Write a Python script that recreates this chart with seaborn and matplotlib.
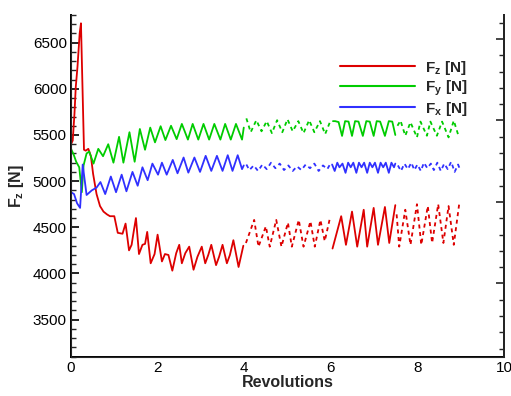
import numpy as np
import matplotlib
matplotlib.use("Agg")
import matplotlib.pyplot as plt
from matplotlib.lines import Line2D
from matplotlib.ticker import MultipleLocator
import seaborn as sns

# ---------------- data ----------------
fz_rev = [0.00, 0.04, 0.08, 0.11, 0.15, 0.20, 0.23, 0.30, 0.34, 0.40, 0.46, 0.51, 0.59,
          0.67, 0.75, 0.83, 0.90, 1.00, 1.08, 1.19, 1.26, 1.34, 1.40, 1.45, 1.50, 1.57,
          1.65, 1.71, 1.76, 1.84, 1.93, 2.00, 2.10, 2.17, 2.25, 2.34, 2.43, 2.50, 2.56,
          2.64, 2.73, 2.83, 2.92, 3.02, 3.10, 3.17, 3.24, 3.35, 3.42, 3.50, 3.60, 3.67,
          3.75, 3.87, 3.98,
          4.04, 4.23, 4.33, 4.50, 4.59, 4.74, 4.86, 5.01, 5.10, 5.26, 5.37, 5.53, 5.63,
          5.76, 5.86, 5.98,
          6.04, 6.24, 6.35, 6.49, 6.61, 6.76, 6.84, 6.99, 7.09, 7.25, 7.35, 7.49,
          7.52, 7.58, 7.72, 7.84, 7.99, 8.09, 8.24, 8.34, 8.48, 8.60, 8.72, 8.84, 8.97]
fz_val = [5400, 5440, 5730, 6020, 6240, 6600, 6710, 5340, 5330, 5350, 5270, 5080, 4860,
          4730, 4670, 4640, 4620, 4620, 4440, 4430, 4540, 4250, 4310, 4460, 4600, 4210,
          4310, 4320, 4450, 4110, 4210, 4420, 4130, 4210, 4200, 4030, 4220, 4310, 4110,
          4220, 4290, 4040, 4180, 4290, 4110, 4200, 4310, 4090, 4180, 4310, 4110, 4200,
          4360, 4070, 4300,
          4330, 4580, 4290, 4510, 4290, 4580, 4290, 4550, 4290, 4580, 4290, 4565, 4290,
          4580, 4350, 4600,
          4270, 4620, 4310, 4670, 4290, 4690, 4290, 4710, 4310, 4720, 4330, 4740,
          4640, 4290, 4690, 4310, 4750, 4310, 4730, 4330, 4750, 4330, 4730, 4310, 4770]

fy_rev = [0.00, 0.06, 0.12, 0.19, 0.25, 0.29, 0.36, 0.42, 0.52, 0.63, 0.74, 0.86, 0.98,
          1.11, 1.21, 1.35, 1.47, 1.59, 1.71, 1.83, 1.94, 2.07, 2.18, 2.31, 2.44, 2.56,
          2.70, 2.81, 2.94, 3.06, 3.19, 3.31, 3.45, 3.56, 3.69, 3.81, 3.95, 3.99,
          4.05, 4.15, 4.28, 4.40, 4.52, 4.64, 4.76, 4.88, 5.00, 5.12, 5.25, 5.37, 5.50,
          5.62, 5.75, 5.87, 5.98,
          6.05, 6.10, 6.18, 6.26, 6.33, 6.41, 6.49, 6.56, 6.64, 6.74, 6.82, 6.90, 6.99,
          7.06, 7.14, 7.25, 7.34, 7.42, 7.49,
          7.54, 7.61, 7.72, 7.84, 7.99, 8.07, 8.22, 8.30, 8.45, 8.57, 8.72, 8.84, 8.96]
fy_val = [5350, 5290, 5210, 5150, 4880, 5170, 5300, 5320, 5190, 5350, 5270, 5400, 5200,
          5480, 5200, 5530, 5210, 5565, 5340, 5580, 5420, 5595, 5445, 5600, 5455, 5620,
          5450, 5620, 5450, 5620, 5450, 5620, 5450, 5620, 5450, 5620, 5450, 5580,
          5680, 5530, 5660, 5540, 5650, 5520, 5660, 5530, 5670, 5540, 5650, 5520, 5660,
          5530, 5650, 5510, 5640,
          5650, 5650, 5640, 5490, 5650, 5645, 5490, 5650, 5645, 5490, 5650, 5645, 5490,
          5650, 5645, 5490, 5650, 5645, 5500,
          5600, 5656, 5492, 5638, 5474, 5645, 5492, 5645, 5492, 5645, 5474, 5656, 5474]

fx_rev = [0.00, 0.07, 0.14, 0.21, 0.27, 0.36, 0.48, 0.59, 0.68, 0.79, 0.92, 1.04, 1.17,
          1.28, 1.42, 1.54, 1.65, 1.77, 1.88, 2.01, 2.10, 2.21, 2.35, 2.46, 2.60, 2.71,
          2.85, 2.98, 3.11, 3.24, 3.37, 3.50, 3.62, 3.73, 3.85, 3.95, 3.99,
          4.05, 4.12, 4.22, 4.32, 4.42, 4.52, 4.62, 4.72, 4.82, 4.92, 5.02, 5.12, 5.22,
          5.32, 5.42, 5.52, 5.62, 5.72, 5.82, 5.92, 5.98,
          6.03, 6.09, 6.15, 6.20, 6.27, 6.34, 6.40, 6.46, 6.52, 6.59, 6.65, 6.71, 6.77,
          6.84, 6.90, 6.96, 7.02, 7.09, 7.15, 7.21, 7.27, 7.34, 7.40, 7.46, 7.49,
          7.55, 7.62, 7.70, 7.78, 7.86, 7.93, 8.00, 8.08, 8.15, 8.23, 8.31, 8.38, 8.46,
          8.54, 8.62, 8.70, 8.78, 8.86, 8.94, 8.98]
fx_val = [4880, 4860, 4760, 4710, 5180, 4850, 4900, 4930, 4990, 4860, 5050, 4880, 5070,
          4890, 5100, 4950, 5150, 5010, 5190, 5070, 5200, 5070, 5230, 5085, 5256, 5092,
          5256, 5100, 5274, 5111, 5274, 5111, 5281, 5111, 5281, 5130, 5170,
          5180, 5120, 5170, 5110, 5180, 5130, 5200, 5140, 5190, 5120, 5170, 5110, 5160,
          5120, 5180, 5140, 5190, 5110, 5170, 5130, 5180,
          5180, 5110, 5200, 5150, 5190, 5090, 5200, 5150, 5200, 5090, 5200, 5150, 5200,
          5090, 5200, 5150, 5200, 5090, 5200, 5150, 5200, 5090, 5200, 5150, 5190,
          5170, 5110, 5190, 5130, 5200, 5120, 5180, 5110, 5200, 5140, 5190, 5120, 5200,
          5110, 5190, 5130, 5210, 5100, 5180, 5130]

segment_edges = [0.0, 4.0, 6.0, 7.5, 9.0]
labels = ["F$_\\mathbf{z}$ [N]", "F$_\\mathbf{y}$ [N]", "F$_\\mathbf{x}$ [N]"]
x_ticks = [0, 2, 4, 6, 8, 10]
y_ticks = [3500, 4000, 4500, 5000, 5500, 6000, 6500]

# ---------------- styling ----------------
sns.set_style("white")
plt.rcParams["font.family"] = ["Liberation Sans", "DejaVu Sans"]
plt.rcParams["mathtext.fontset"] = "custom"
plt.rcParams["mathtext.rm"] = "Liberation Sans:bold"
plt.rcParams["mathtext.bf"] = "Liberation Sans:bold"
plt.rcParams["mathtext.it"] = "Liberation Sans:bold"

colors = ["#dd0000", "#00cc00", "#3030ff"]
seg_styles = ["-", (0, (2.2, 2.0)), "-", (0, (2.2, 2.0))]

fig = plt.figure(figsize=(5.11, 3.96), dpi=100)
L, R, T, B = 71, 504, 15, 356.5
ax = fig.add_axes([L / 511, 1 - B / 396, (R - L) / 511, (B - T) / 396])

series = [(fz_rev, fz_val), (fy_rev, fy_val), (fx_rev, fx_val)]
for (rv, vv), col in zip(series, colors):
    rv = np.asarray(rv, float)
    vv = np.asarray(vv, float)
    for i in range(len(segment_edges) - 1):
        a, b = segment_edges[i], segment_edges[i + 1]
        m = (rv >= a) & ((rv < b) if i < len(segment_edges) - 2 else (rv <= b + 0.01))
        sns.lineplot(x=rv[m], y=vv[m], ax=ax, color=col, lw=1.3,
                     linestyle=seg_styles[i], estimator=None, sort=False, legend=False)

ax.set_xlim(0, 10)
ax.set_ylim(3100, 6800)
ax.set_xticks(x_ticks)
ax.set_yticks(y_ticks)
ax.xaxis.set_minor_locator(MultipleLocator(0.5))
ax.yaxis.set_minor_locator(MultipleLocator(100))
ax.tick_params(axis="both", which="major", direction="in", length=6, width=1.2,
               labelsize=11, colors="black")
ax.tick_params(axis="both", which="minor", direction="in", length=3.5, width=1.0)
ax.tick_params(axis="x", pad=3)
ax.tick_params(axis="y", pad=3)
for s in ["left", "bottom", "right"]:
    ax.spines[s].set_linewidth(1.4)
    ax.spines[s].set_color("black")
ax.spines["top"].set_visible(False)

ax.set_xlabel("Revolutions", fontsize=11.5, fontweight="bold", labelpad=0)
ax.set_ylabel("F$_\\mathbf{z}$ [N]", fontsize=11.5, fontweight="bold", labelpad=5)

handles = [Line2D([], [], color=c, lw=1.5) for c in colors]
ax.legend(handles, labels, loc="upper left", bbox_to_anchor=(0.621, 0.872),
          frameon=False, borderaxespad=0, borderpad=0, handlelength=4.9,
          handletextpad=0.65, labelspacing=0.12,
          prop={"weight": "bold", "size": 11})

# right axis (labels fall outside the figure as in the reference)
ax2 = ax.twinx()
ax2.set_ylim(-2.896, 1.294)
ax2.yaxis.set_major_locator(MultipleLocator(1))
ax2.yaxis.set_minor_locator(MultipleLocator(0.2))
ax2.tick_params(axis="y", which="major", direction="in", length=6, width=1.2,
                labelsize=11, pad=5)
ax2.tick_params(axis="y", which="minor", direction="in", length=3.5, width=1.0)
ax2.spines["top"].set_visible(False)
ax2.spines["right"].set_linewidth(1.4)
ax2.grid(False)

fig.savefig("out.png", dpi=100)
